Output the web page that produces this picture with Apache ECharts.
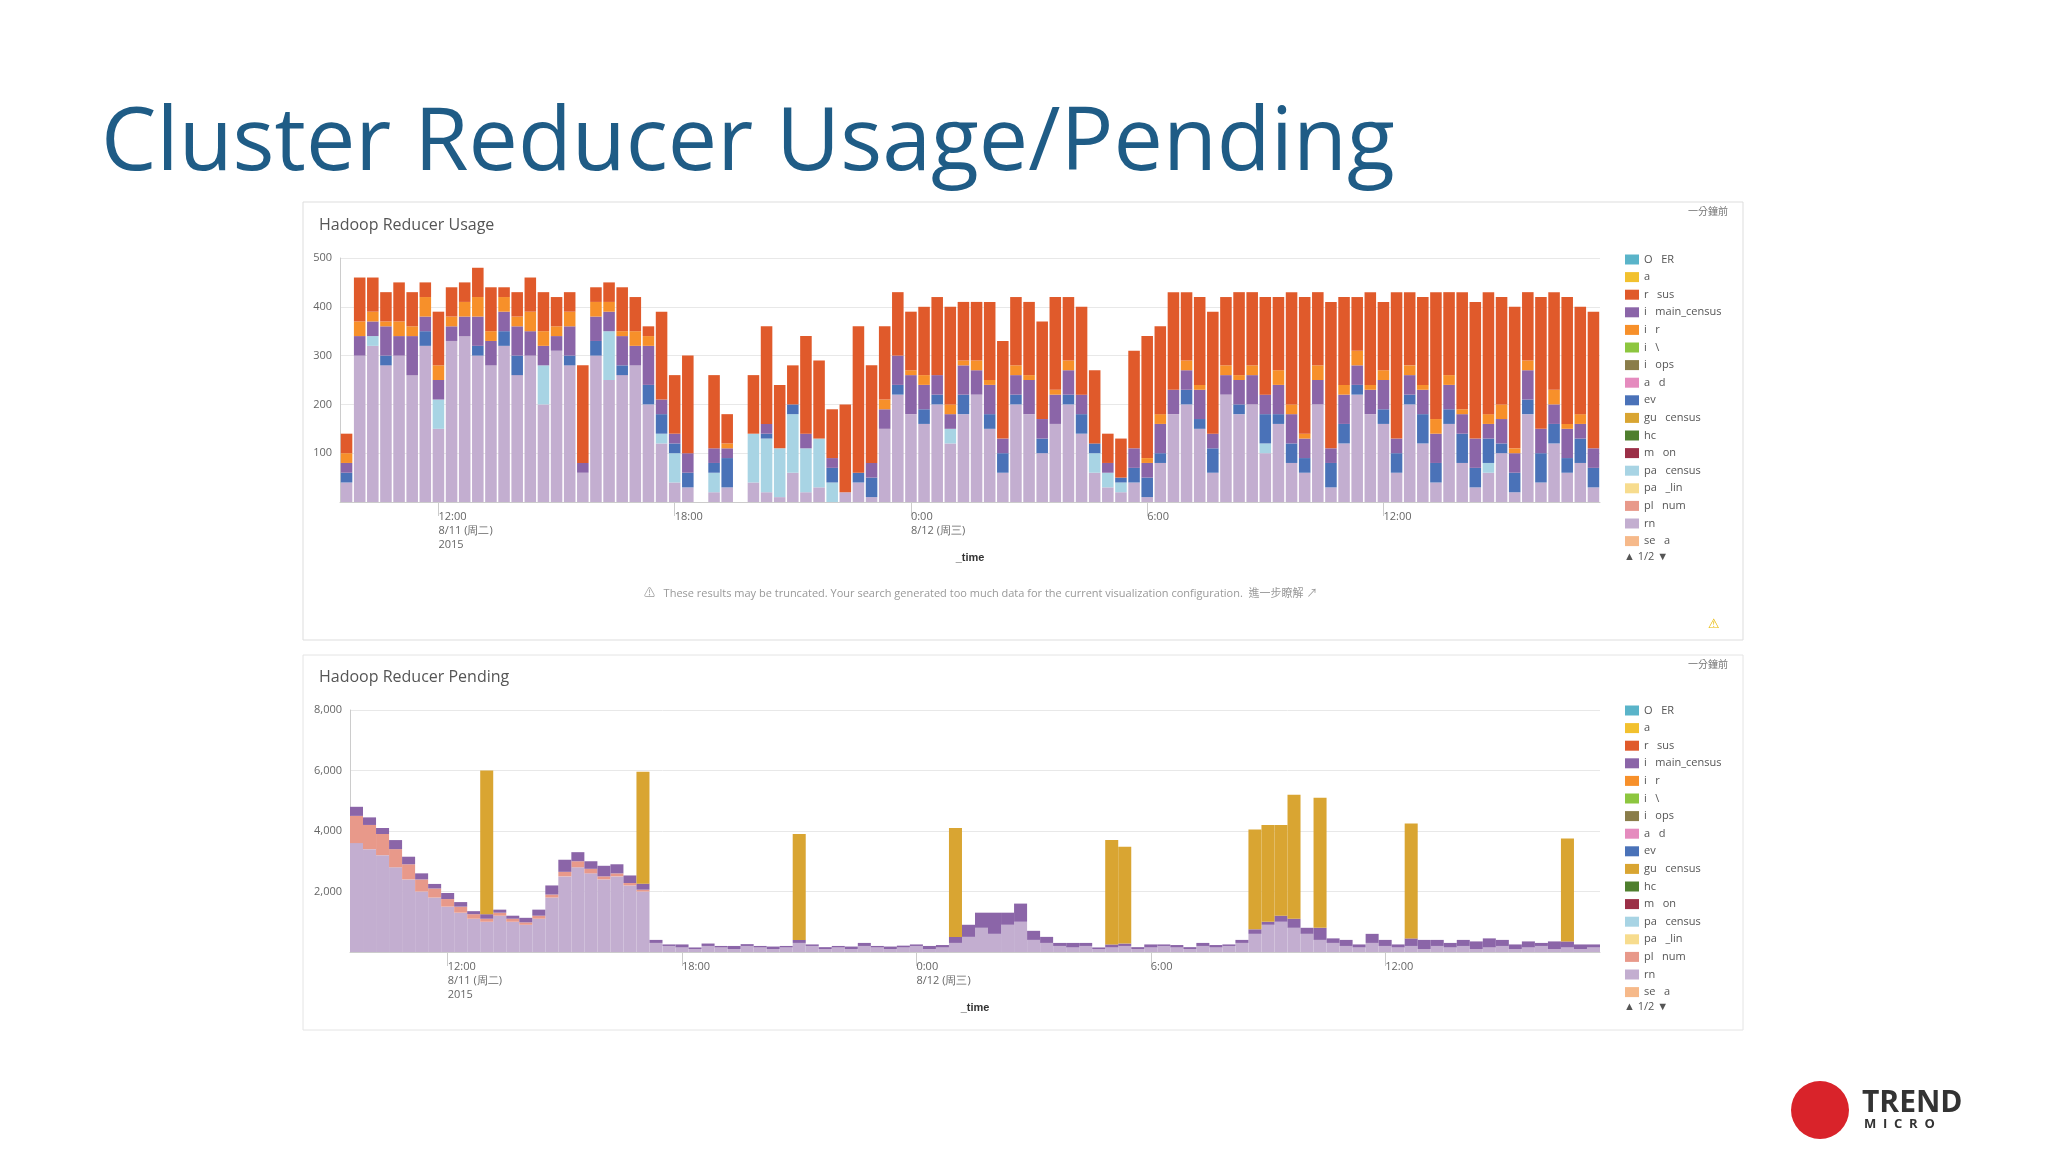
<!DOCTYPE html>
<html><head><meta charset="utf-8">
<script src="https://cdn.jsdelivr.net/npm/echarts@6/dist/echarts.min.js"></script>
<style>html,body{margin:0;padding:0;background:#fff}#c{width:2048px;height:1152px}</style>
</head><body><div id="c"></div>
<script>
// categories: 20-minute buckets from 8/11 09:40 to 8/12 17:20
const categories = [];
for (let i = 0; i < 96; i++) { const m = 9*60+40 + i*20; const h = Math.floor(m/60)%24, mm = m%60; categories.push(h + ':' + (mm<10?'0':'') + mm); }
const tickIdx = [7, 25, 43, 61, 79];
const tickLabels = ['12:00\n8/11 (周二)\n2015', '18:00', '0:00\n8/12 (周三)', '6:00', '12:00'];

const legendNames = ['O   ER','a','r   sus','i   main_census','i   r','i   \\','i   ops','a   d','ev','gu   census','hc','m   on','pa   census','pa   _lin','pl   num','rn','se   a'];
const legendColors = ['#5ab4c9','#f2c12e','#e05a2b','#8b65a8','#f7902a','#8dc63f','#8a7d4a','#e58bbe','#4a72b8','#d9a532','#4f7f2e','#9b2f47','#a8d4e4','#f7dc8e','#e8998a','#c3aed0','#f6b98a'];

// Usage (top)
const usageRm = [40,300,320,280,300,260,320,150,330,340,300,280, 320,260,300,200,310,280,60,300,250,260,280,200, 120,40,30,0,20,30,0,40,20,10,60,20, 30,0,20,40,10,150,220,180,160,200,120,180, 220,150,60,200,180,100,160,200,140,60,30,20, 40,10,80,180,200,150,60,220,180,200,100,160, 80,60,200,30,120,220,180,160,60,200,120,40, 160,80,30,60,100,20,180,40,120,60,80,30];
const usagePaCensus = [0,0,20,0,0,0,0,60,0,0,0,0, 0,0,0,80,0,0,0,0,100,0,0,0, 20,60,0,0,40,0,0,100,110,100,120,90, 100,40,0,0,0,0,0,0,0,0,30,0, 0,0,0,0,0,0,0,0,0,40,30,20, 0,0,0,0,0,0,0,0,0,0,20,0, 0,0,0,0,0,0,0,0,0,0,0,0, 0,0,0,20,0,0,0,0,0,0,0,0];
const usageEv = [20,0,0,20,0,0,30,0,0,0,20,0, 30,40,0,0,0,20,0,30,0,20,0,40, 40,20,30,0,20,60,0,0,10,0,20,0, 0,30,0,20,40,0,20,0,30,20,0,40, 0,30,40,20,0,30,0,20,40,20,0,10, 30,40,20,0,30,20,50,0,20,0,60,20, 40,30,0,50,40,20,0,30,40,20,60,40, 30,60,40,50,20,40,30,60,40,30,50,40];
const usageMain = [20,40,30,60,40,80,30,40,30,40,60,50, 40,60,50,40,30,60,20,50,40,60,40,80, 30,20,40,0,30,20,0,0,20,0,0,30, 0,20,0,0,30,40,60,80,50,40,30,60, 50,60,30,40,70,40,60,50,40,0,20,0, 40,30,60,50,40,60,30,40,50,60,40,60, 60,40,50,30,60,40,50,60,30,40,50,60, 50,40,60,30,50,40,60,50,40,60,30,40];
const usageOrange = [20,30,20,10,30,20,40,30,20,30,40,20, 30,20,40,30,20,30,0,30,20,10,30,20, 0,0,0,0,0,10,0,0,0,0,0,0, 0,0,0,0,0,20,0,10,20,0,20,10, 20,10,0,20,10,0,10,20,0,0,0,0, 0,10,20,0,20,10,0,20,10,20,0,30, 20,10,30,0,20,30,10,20,0,20,10,30, 20,10,0,20,30,10,20,0,30,10,20,0];
const usageCensus = [40,90,70,60,80,70,30,110,60,40,60,90, 20,50,70,80,60,40,200,30,40,90,70,20, 180,120,200,0,150,60,0,120,200,130,80,200, 160,100,180,300,200,150,130,120,140,160,200,120, 120,160,200,140,150,200,190,130,180,150,60,80, 200,250,180,200,140,180,250,140,170,150,200,150, 230,280,150,300,180,110,190,140,300,150,180,260, 170,240,280,250,220,290,140,270,200,260,220,280];

// Pending (bottom)
const pendRm = [3600,3400,3200,2800,2400,2000,1800,1500,1300,1100,1000,1200, 1000,900,1100,1800,2500,2800,2600,2400,2500,2200,2000,300, 200,150,100,200,150,100,200,150,100,150,300,200, 100,150,100,200,150,100,150,200,100,150,300,500, 800,600,900,1000,400,300,200,150,200,100,150,200, 100,150,200,150,100,200,150,200,300,600,900,1000, 800,600,400,300,200,150,300,200,150,200,100,200, 150,200,100,150,200,100,150,200,100,150,100,150];
const pendPlNum = [900,800,700,600,500,400,300,250,200,150,100,100, 100,80,100,100,150,200,150,100,100,80,60,0, 0,0,0,0,0,0,0,0,0,0,0,0, 0,0,0,0,0,0,0,0,0,0,0,0, 0,0,0,0,0,0,0,0,0,0,0,0, 0,0,0,0,0,0,0,0,0,0,0,0, 0,0,0,0,0,0,0,0,0,0,0,0, 0,0,0,0,0,0,0,0,0,0,0,0];
const pendMain = [300,250,200,300,250,200,150,200,150,100,150,100, 100,150,200,300,400,300,250,350,300,250,200,100, 50,100,50,80,50,100,60,50,80,50,100,50, 60,50,80,100,50,80,60,50,100,80,200,400, 500,700,400,600,300,200,100,150,100,50,100,80, 60,100,50,80,60,100,80,50,100,150,100,200, 300,200,400,150,200,100,300,200,100,250,300,200, 150,200,250,300,200,150,200,100,250,200,150,100];
const pendGu = [0,0,0,0,0,0,0,0,0,0,4750,0, 0,0,0,0,0,0,0,0,0,0,3700,0, 0,0,0,0,0,0,0,0,0,0,3500,0, 0,0,0,0,0,0,0,0,0,0,3600,0, 0,0,0,0,0,0,0,0,0,0,3450,3200, 0,0,0,0,0,0,0,0,0,3300,3200,3000, 4100,0,4300,0,0,0,0,0,0,3800,0,0, 0,0,0,0,0,0,0,0,0,3400,0,0];

const usageMap = {'rn':usageRm,'pa   census':usagePaCensus,'ev':usageEv,'i   main_census':usageMain,'i   r':usageOrange,'r   sus':usageCensus};
const usageOrder = ['rn','pa   census','ev','i   main_census','i   r','r   sus'];
const pendMap = {'rn':pendRm,'pl   num':pendPlNum,'i   main_census':pendMain,'gu   census':pendGu};
const pendOrder = ['rn','pl   num','i   main_census','gu   census'];

const colorOf = n => legendColors[legendNames.indexOf(n)];
const series = [];
function addSeries(order, map, idx, stack, gap) {
  order.forEach(n => series.push({name:n, type:'bar', stack:stack, xAxisIndex:idx, yAxisIndex:idx, data:map[n], itemStyle:{color:colorOf(n)}, barCategoryGap:gap, silent:true}));
  legendNames.forEach(n => { if (!map[n]) series.push({name:n, type:'bar', stack:stack, xAxisIndex:idx, yAxisIndex:idx, data:[], itemStyle:{color:colorOf(n)}}); });
}
addSeries(usageOrder, usageMap, 0, 'u', '12%');
addSeries(pendOrder, pendMap, 1, 'p', '0%');

const lbl = {color:'#666', fontSize:11, fontFamily:'Open Sans', lineHeight:14};
function xAxis(gi, top) {
  return {type:'category', gridIndex:gi, data:categories, boundaryGap:true,
    axisLine:{lineStyle:{color:'#ccc'}}, axisTick:{show:true, alignWithLabel:true, length:14, lineStyle:{color:'#ccc'}, interval:(i)=>tickIdx.includes(i)},
    axisLabel:Object.assign({}, lbl, {align:'left', interval:(i)=>tickIdx.includes(i), formatter:(v,i)=>tickLabels[tickIdx.indexOf(i)] || ''}),
    name:'_time', nameLocation:'middle', nameGap:top?46:44, nameTextStyle:{color:'#333', fontSize:11, fontWeight:'bold'}};
}
const legendBase = (top) => ({orient:'vertical', left:1620, top:top, itemWidth:14, itemHeight:10, itemGap:6.6, icon:'rect', data:legendNames, selectedMode:false, textStyle:{color:'#555', fontSize:11, fontFamily:'Open Sans'}});

const chart = echarts.init(document.getElementById('c'));
chart.setOption({
  animation:false,
  color:legendColors,
  title:[
    {text:'Cluster Reducer Usage/Pending', left:96, top:96, textStyle:{color:'#1f5c86', fontSize:88, fontWeight:'normal', fontFamily:'Open Sans'}},
    {text:'Hadoop Reducer Usage', left:314, top:212, textStyle:{color:'#555', fontSize:16, fontWeight:'normal', fontFamily:'Open Sans'}},
    {text:'Hadoop Reducer Pending', left:314, top:664, textStyle:{color:'#555', fontSize:16, fontWeight:'normal', fontFamily:'Open Sans'}}
  ],
  grid:[{left:340, right:448, top:258, height:244},{left:350, right:448, top:710, height:242}],
  xAxis:[xAxis(0,true), xAxis(1,false)],
  yAxis:[
    {type:'value', gridIndex:0, min:0, max:500, interval:100, axisLine:{show:true, lineStyle:{color:'#ccc'}}, splitLine:{lineStyle:{color:'#e8e8e8'}}, axisLabel:Object.assign({}, lbl, {formatter:v=>v===0?'':v})},
    {type:'value', gridIndex:1, min:0, max:8000, interval:2000, axisLine:{show:true, lineStyle:{color:'#ccc'}}, splitLine:{lineStyle:{color:'#e8e8e8'}}, axisLabel:Object.assign({}, lbl, {formatter:v=>v===0?'':v.toLocaleString('en-US')})}
  ],
  legend:[legendBase(249), legendBase(700)],
  series:series,
  graphic:[
    {type:'rect', shape:{x:303, y:202, width:1440, height:438}, style:{fill:'none', stroke:'#ddd', lineWidth:1}, z:-1},
    {type:'rect', shape:{x:303, y:655, width:1440, height:375}, style:{fill:'none', stroke:'#e4e4e4', lineWidth:1}, z:-1},
    {type:'text', left:1688, top:206, style:{text:'一分鐘前', fill:'#777', font:'10px "Noto Sans CJK TC"'}},
    {type:'text', left:1688, top:659, style:{text:'一分鐘前', fill:'#777', font:'10px "Noto Sans CJK TC"'}},
    {type:'text', left:1624, top:551, style:{text:'▲ 1/2 ▼', fill:'#555', font:'11px "Open Sans"'}},
    {type:'text', left:1624, top:1001, style:{text:'▲ 1/2 ▼', fill:'#555', font:'11px "Open Sans"'}},
    {type:'text', left:644, top:588, style:{text:'⚠   These results may be truncated. Your search generated too much data for the current visualization configuration.  進一步瞭解 ↗', fill:'#999', font:'11px "Open Sans", "Noto Sans CJK TC"'}},
    {type:'text', left:1708, top:618, style:{text:'⚠', fill:'#e8b800', font:'13px "DejaVu Sans"'}},
    {type:'circle', shape:{cx:1820, cy:1110, r:29}, style:{fill:'#d9232a'}},
    {type:'text', left:1862, top:1088, style:{text:'TREND', fill:'#333', font:'bold 30px "Open Sans"'}},
    {type:'text', left:1864, top:1118, style:{text:'M  I  C  R  O', fill:'#333', font:'bold 13px "Open Sans"'}}
  ]
});
</script></body></html>
